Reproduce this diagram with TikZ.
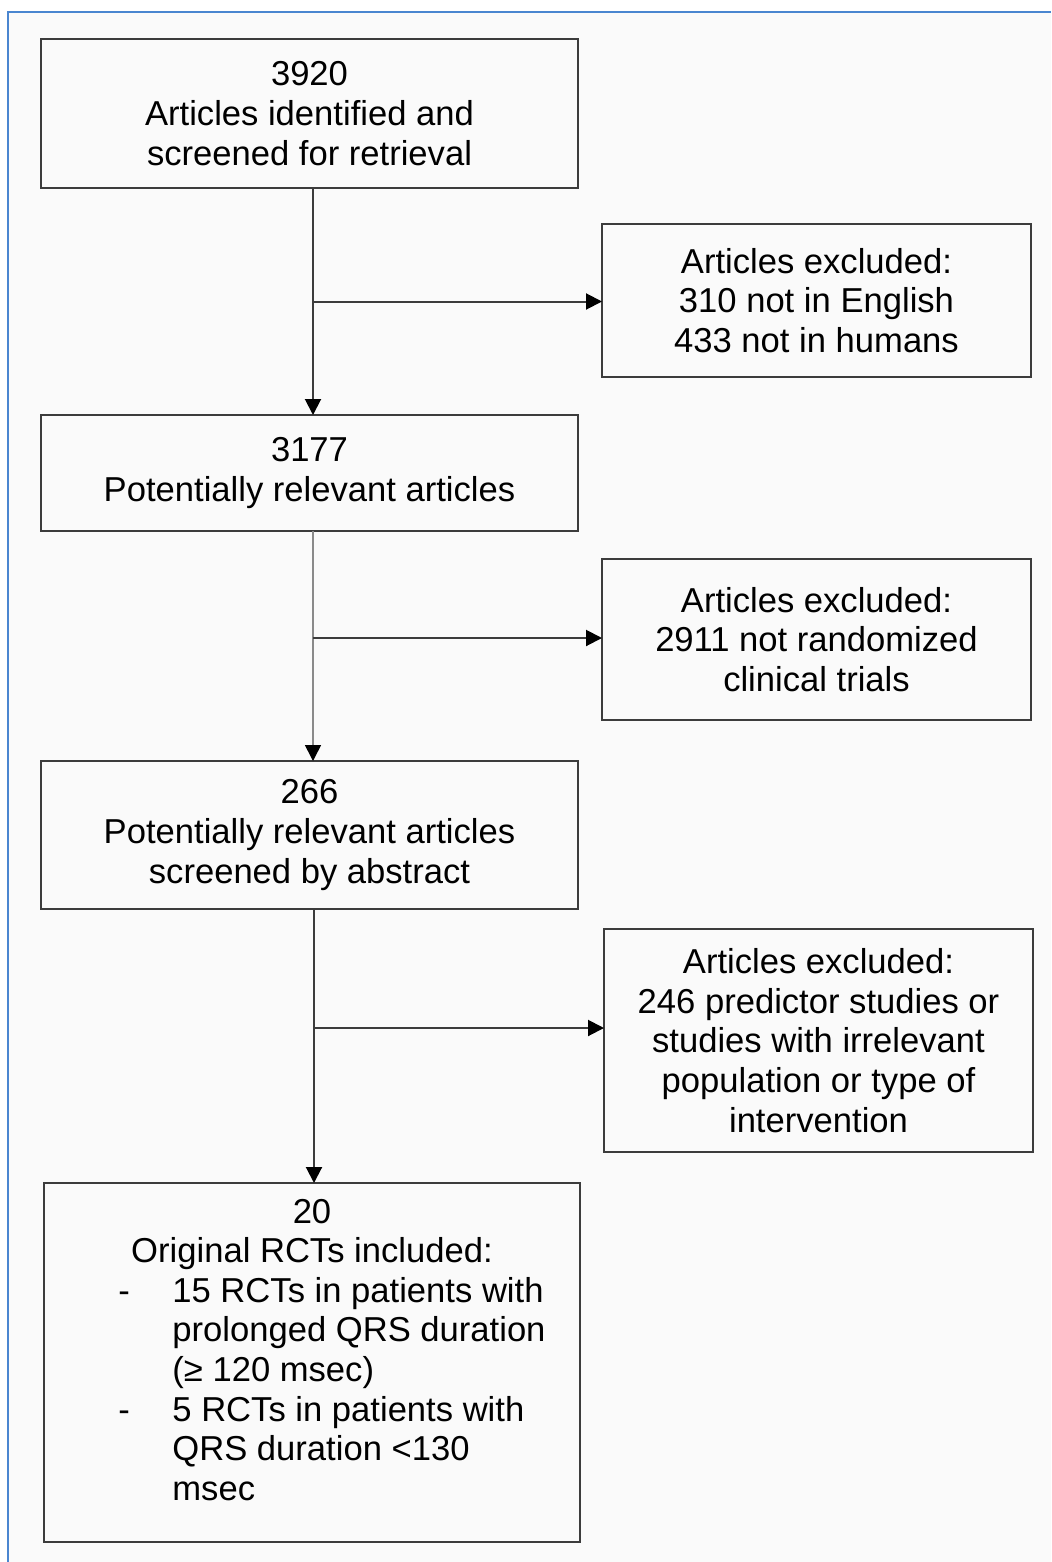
\documentclass[tikz,border=0pt]{standalone}
\usepackage{fontspec}
\setmainfont{Liberation Sans}
\usepackage{tikz}
\usetikzlibrary{calc,positioning,arrows.meta}
\definecolor{frameblue}{HTML}{4A86D0}
\definecolor{panelgray}{HTML}{FAFAFA}
\definecolor{boxline}{HTML}{3C3C3C}
\definecolor{trunkgray}{HTML}{8A8A8A}

\begin{document}
\begin{tikzpicture}[
    font=\fontsize{17.3}{19.8}\selectfont,
    stagebox/.style={rectangle, draw=boxline, fill=panelgray, minimum width=268.5pt,
      align=center, line width=1pt, inner sep=0pt, outer sep=0pt},
    exclbox/.style={rectangle, draw=boxline, fill=panelgray, minimum width=214.5pt,
      align=center, line width=1pt, inner sep=0pt, outer sep=0pt, anchor=west},
    arr/.style={-{Triangle[length=8pt,width=8pt,color=black]}, line width=1pt, draw=boxline},
    node distance=0pt
  ]
    % page and frame
    \useasboundingbox (0,0) rectangle (525.5pt,-781pt);
    \fill[white] (0,0) rectangle (525.5pt,-781pt);
    \fill[panelgray] (4pt,-6pt) rectangle (525.5pt,-781pt);
    \draw[frameblue, line width=0.8pt] (4pt,-781pt) -- (4pt,-6pt) -- (525.5pt,-6pt);

    \node[stagebox, minimum height=74.5pt] (s1) at (154.75pt,-56.75pt) {3920\\Articles identified and\\screened for retrieval};
    \node[stagebox, minimum height=58pt, below=113.5pt of s1] (s2) {3177\\Potentially relevant articles};
    \node[stagebox, minimum height=74pt, below=115pt of s2] (s3) {266\\Potentially relevant articles\\screened by abstract};
    \node[stagebox, minimum width=268pt, minimum height=179.5pt, below=137pt of s3, xshift=1.25pt] (s4)
      {20\\Original RCTs included:\\\hspace*{20pt}\begin{tabular}[t]{@{}p{27pt}@{}l@{}}
        -&15 RCTs in patients with\\
         &prolonged QRS duration\\
         &(≥ 120 msec)\\
        -&5 RCTs in patients with\\
         &QRS duration <130\\
         &msec
      \end{tabular}\\[6pt]};

    \coordinate (t1) at ($(s1.south)+(1.75pt,0)$);
    \coordinate (b1) at ($(t1)+(0,-56.75pt)$);
    \coordinate (t2) at ($(s2.south)+(1.75pt,0)$);
    \coordinate (b2) at ($(t2)+(0,-53.5pt)$);
    \coordinate (t3) at ($(s3.south)+(2.25pt,0)$);
    \coordinate (b3) at ($(t3)+(0,-59.5pt)$);

    \node[exclbox, minimum height=76.5pt] (e1) at ($(b1 -| s1.east)+(12pt,0.5pt)$) {Articles excluded:\\310 not in English\\433 not in humans};
    \node[exclbox, minimum height=80.5pt] (e2) at ($(b2 -| s2.east)+(12pt,-0.75pt)$) {Articles excluded:\\2911 not randomized\\clinical trials};
    \node[exclbox, minimum height=111.5pt] (e3) at ($(b3 -| s3.east)+(13pt,-6.25pt)$) {Articles excluded:\\246 predictor studies or\\studies with irrelevant\\population or type of\\intervention};

    \draw[arr] (t1) -- (t1 |- s2.north);
    \draw[arr] (b1) -- (b1 -| e1.west);
    \draw[arr, draw=trunkgray, line width=0.8pt] (t2) -- (t2 |- s3.north);
    \draw[arr] (b2) -- (b2 -| e2.west);
    \draw[arr] (t3) -- (t3 |- s4.north);
    \draw[arr] (b3) -- (b3 -| e3.west);
\end{tikzpicture}
\end{document}
